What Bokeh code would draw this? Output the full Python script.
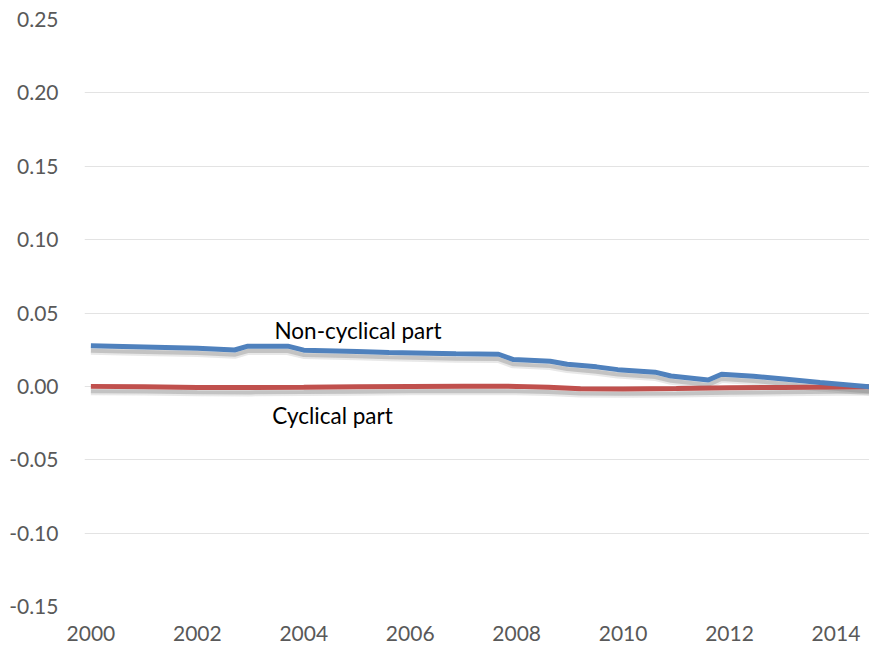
from bokeh.plotting import figure
from bokeh.models import Range1d, FixedTicker, NumeralTickFormatter, Label
from bokeh.embed import file_html
from bokeh.resources import INLINE

# Non-cyclical part
nc_x = [2000.0, 2001.0, 2002.0, 2002.7, 2002.95, 2003.7, 2004.0, 2005.0, 2005.6, 2006.86,
        2007.66, 2007.94, 2008.63, 2008.95, 2009.5, 2009.9, 2010.6, 2010.9, 2011.6,
        2011.85, 2012.45, 2013.07, 2013.7, 2014.75]
nc_y = [0.0276, 0.0268, 0.0260, 0.0248, 0.0274, 0.0274, 0.0247, 0.0238, 0.0231, 0.0222,
        0.0219, 0.0183, 0.0171, 0.0151, 0.0133, 0.0114, 0.0097, 0.0071, 0.0043,
        0.0083, 0.0069, 0.0049, 0.0026, -0.0006]

# Cyclical part
c_x = [2000.0, 2001.0, 2002.0, 2003.0, 2004.0, 2005.0, 2006.0, 2007.0, 2008.0, 2008.6,
       2009.2, 2010.0, 2011.0, 2012.0, 2013.0, 2014.0, 2014.75]
c_y = [0.0000, -0.0002, -0.0007, -0.0008, -0.0006, -0.0003, -0.0001, 0.0001, 0.0000, -0.0006,
       -0.0016, -0.0018, -0.0015, -0.0010, -0.0007, -0.0004, -0.0003]

x_ticks = [2000, 2002, 2004, 2006, 2008, 2010, 2012, 2014]
y_ticks = [-0.15, -0.10, -0.05, 0.00, 0.05, 0.10, 0.15, 0.20, 0.25]

labels = ["Non-cyclical part", "Cyclical part"]
label_x = [2003.45, 2003.41]
label_y = [0.0381, -0.0198]

FONT = "Lato"

p = figure(width=869, height=644, output_backend="svg", toolbar_location=None,
           x_range=Range1d(1999.88, 2014.63), y_range=Range1d(-0.15, 0.25),
           min_border_left=84, min_border_right=0, min_border_top=19, min_border_bottom=38)
p.outline_line_color = None
p.background_fill_color = "white"
p.border_fill_color = "white"

# shadow range (shifted so lines appear a few pixels lower)
p.extra_y_ranges = {"shadow": Range1d(-0.15 + 0.0033, 0.25 + 0.0033)}

for ax in (p.xaxis[0], p.yaxis[0]):
    ax.axis_line_color = None
    ax.major_tick_line_color = None
    ax.minor_tick_line_color = None
    ax.major_label_text_font = FONT
    ax.major_label_text_font_size = "21px"
    ax.major_label_text_color = "#595959"

p.xaxis.ticker = FixedTicker(ticks=x_ticks)
p.yaxis.ticker = FixedTicker(ticks=y_ticks)
p.yaxis.formatter = NumeralTickFormatter(format="0.00")
p.xaxis.major_label_standoff = 13
p.yaxis.major_label_standoff = 20

p.xgrid.grid_line_color = None
p.ygrid.grid_line_color = "#e3e3e3"
p.ygrid.grid_line_width = 1

# shadows (soft, drawn as a wide faint stroke plus a narrower darker one)
for xs, ys in ((nc_x, nc_y), (c_x, c_y)):
    p.line(xs, ys, line_width=8, line_color="#8c8c8c", line_alpha=0.2, y_range_name="shadow")
    p.line(xs, ys, line_width=4, line_color="#8c8c8c", line_alpha=0.4, y_range_name="shadow")

p.line(c_x, c_y, line_width=5, line_color="#C0504D")
p.line(nc_x, nc_y, line_width=5, line_color="#4F81BD")

for t, lx, ly in zip(labels, label_x, label_y):
    p.add_layout(Label(x=lx, y=ly, text=t, text_font=FONT, text_font_size="22.5px",
                       text_color="#000000", text_baseline="middle", text_align="left"))

open("out.html", "w").write(file_html(p, INLINE))
